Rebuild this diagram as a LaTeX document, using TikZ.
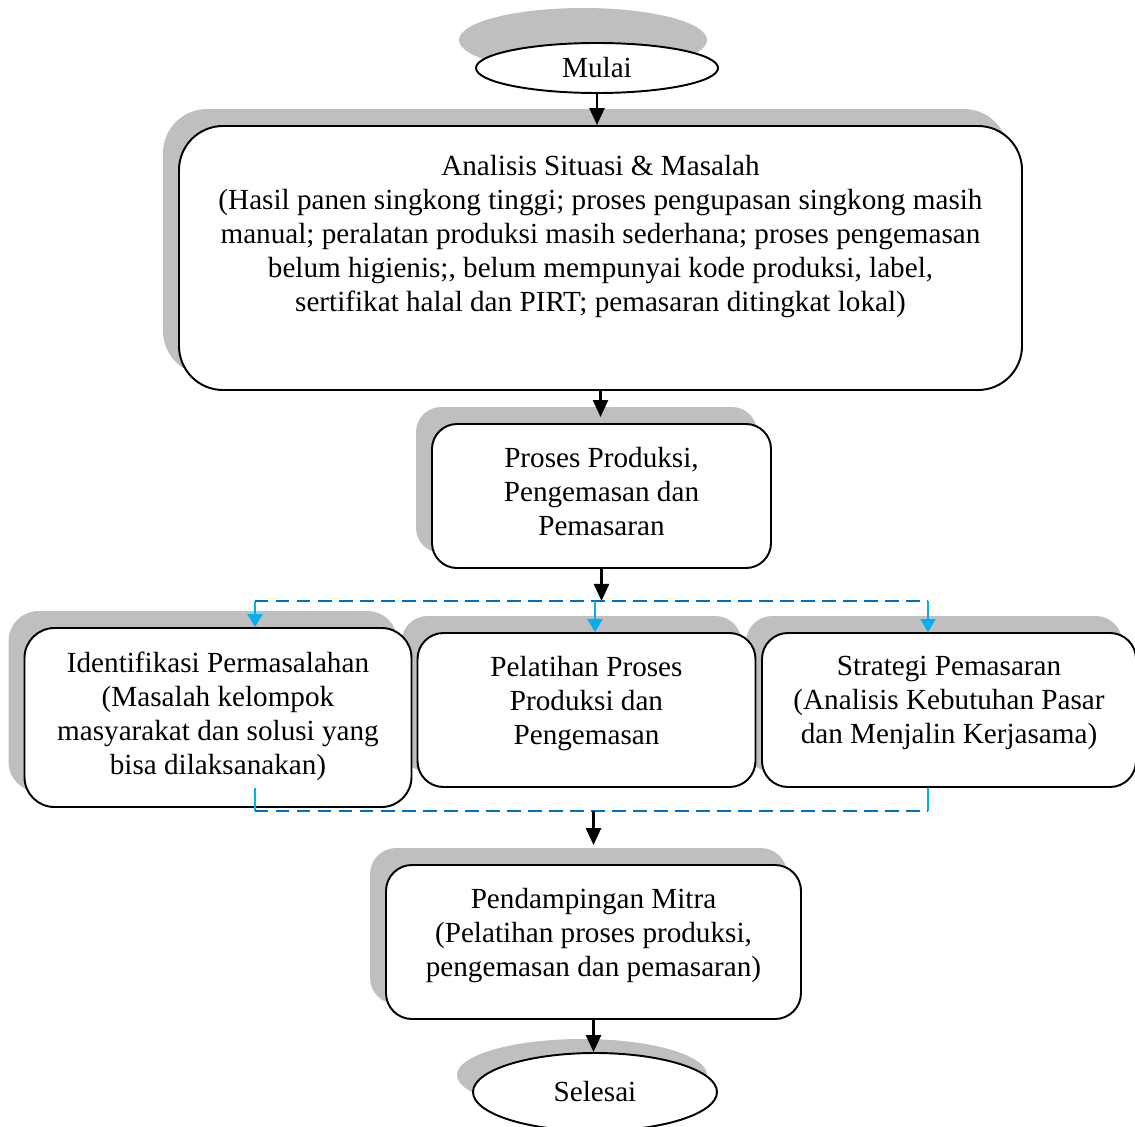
\documentclass[tikz,border=0pt]{standalone}
\usepackage{fontspec}
\setmainfont{Liberation Serif}
\usetikzlibrary{shapes.geometric, arrows.meta, backgrounds, positioning}

\definecolor{shadowgray}{HTML}{BFBFBF}
\definecolor{dashblue}{HTML}{0070C0}
\definecolor{branchcyan}{HTML}{00B0F0}

\tikzstyle{startstop} = [ellipse, minimum width=4.84cm, minimum height=1cm, text centered, draw=black, fill=white, line width=1.1pt, font=\fontsize{16.6pt}{19.35pt}\selectfont]
\tikzstyle{process} = [rectangle, inner sep=0pt, text centered, draw=black, fill=white, line width=1.1pt, font=\fontsize{16.6pt}{19.35pt}\selectfont]
\tikzstyle{arrow} = [line width=1.4pt, -{Triangle[length=0.34cm, width=0.3cm]}]
\tikzstyle{branch} = [line width=1.2pt, branchcyan, -{Triangle[length=0.26cm, width=0.3cm]}]
\tikzstyle{branchline} = [line width=1.2pt, branchcyan]
\tikzstyle{dashline} = [line width=1.2pt, dashblue, dash pattern=on 0.27cm off 0.15cm]

\begin{document}
\begin{tikzpicture}[node distance=2cm]
        \useasboundingbox (-11.94,1.36) rectangle (10.76,-21.16);

        \node (mulai) [startstop] {Mulai};
        \node (analisis) [process, rounded corners=0.88cm, below of=mulai, yshift=-1.8cm, xshift=0.07cm] {\parbox[c][5.28cm][t]{16.86cm}{\centering\vspace*{0.58cm}Analisis Situasi \& Masalah\\ (Hasil panen singkong tinggi; proses pengupasan singkong masih\\ manual; peralatan produksi masih sederhana; proses pengemasan\\ belum higienis;, belum mempunyai kode produksi, label,\\ sertifikat halal dan PIRT; pemasaran ditingkat lokal)}};
        \node (proses) [process, rounded corners=0.5cm, below of=analisis, yshift=-2.76cm, xshift=0.02cm] {\parbox[c][2.88cm][t]{6.78cm}{\centering\vspace*{0.47cm}Proses Produksi,\\ Pengemasan dan\\ Pemasaran}};
        \node (pelatihan) [process, rounded corners=0.52cm, below of=proses, yshift=-2.28cm, xshift=-0.3cm] {\parbox[c][3.08cm][t]{6.76cm}{\centering\vspace*{0.47cm}Pelatihan Proses\\ Produksi dan\\ Pengemasan}};
        \node (identifikasi) [process, rounded corners=0.6cm, left of=pelatihan, xshift=-5.37cm, yshift=-0.15cm] {\parbox[c][3.58cm][t]{7.74cm}{\centering\vspace*{0.47cm}Identifikasi Permasalahan\\ (Masalah kelompok\\ masyarakat dan solusi yang\\ bisa dilaksanakan)}};
        \node (strategi) [process, rounded corners=0.52cm, right of=pelatihan, xshift=5.25cm] {\parbox[c][3.08cm][t]{7.48cm}{\centering\vspace*{0.47cm}Strategi Pemasaran\\ (Analisis Kebutuhan Pasar\\ dan Menjalin Kerjasama)}};
        \node (pendampingan) [process, rounded corners=0.52cm, below of=pelatihan, yshift=-2.64cm, xshift=0.14cm] {\parbox[c][3.08cm][t]{8.3cm}{\centering\vspace*{0.47cm}Pendampingan Mitra\\ (Pelatihan proses produksi,\\ pengemasan dan pemasaran)}};
        \node (selesai) [startstop, minimum width=4.88cm, minimum height=1.56cm, below of=pendampingan, yshift=-1cm, xshift=0.03cm] {Selesai};

        % Shadows
        \begin{scope}[on background layer]
            \fill[shadowgray] ([xshift=-0.28cm, yshift=0.56cm]mulai.center) ellipse (2.48cm and 0.64cm);
            \fill[shadowgray] ([xshift=-0.26cm, yshift=0.34cm]selesai.center) ellipse (2.5cm and 0.72cm);
            \foreach \boxname/\boxrad in {analisis/0.88cm, proses/0.5cm, pelatihan/0.52cm, identifikasi/0.6cm, strategi/0.52cm, pendampingan/0.52cm}
                \fill[shadowgray, rounded corners=\boxrad] ([xshift=-0.3cm, yshift=0.32cm]\boxname.south west) rectangle ([xshift=-0.3cm, yshift=0.32cm]\boxname.north east);
        \end{scope}

        % Branch points
        \coordinate (split) at ([yshift=-0.64cm]proses.south);
        \coordinate (splitl) at ([xshift=-6.93cm]split);
        \coordinate (splitm) at ([xshift=-0.13cm]split);
        \coordinate (splitr) at ([xshift=6.53cm]split);
        \coordinate (merge) at ([yshift=1.06cm]pendampingan.north);
        \coordinate (mergel) at ([xshift=-6.77cm]merge);
        \coordinate (merger) at ([xshift=6.69cm]merge);

        % Arrows
        \draw [arrow] (mulai.south) -- (mulai.south |- analisis.north);
        \draw [arrow, shorten >=0.12cm] (analisis.south) -- (analisis.south |- proses.north);
        \draw [arrow] (proses.south) -- (split);
        \draw [dashline] (splitl) -- (splitr);
        \draw [branch] (splitl) -- (splitl |- identifikasi.north);
        \draw [branch] (splitm) -- (splitm |- pelatihan.north);
        \draw [branch] (splitr) -- (splitr |- strategi.north);
        \draw [branchline, shorten <=-0.4cm] (mergel |- identifikasi.south) -- (mergel);
        \draw [branchline] (merger |- strategi.south) -- (merger);
        \draw [dashline] (mergel) -- (merger);
        \draw [arrow, shorten >=0.38cm] (merge) -- (pendampingan.north);
        \draw [arrow] (pendampingan.south) -- (pendampingan.south |- selesai.north);

\end{tikzpicture}
\end{document}
